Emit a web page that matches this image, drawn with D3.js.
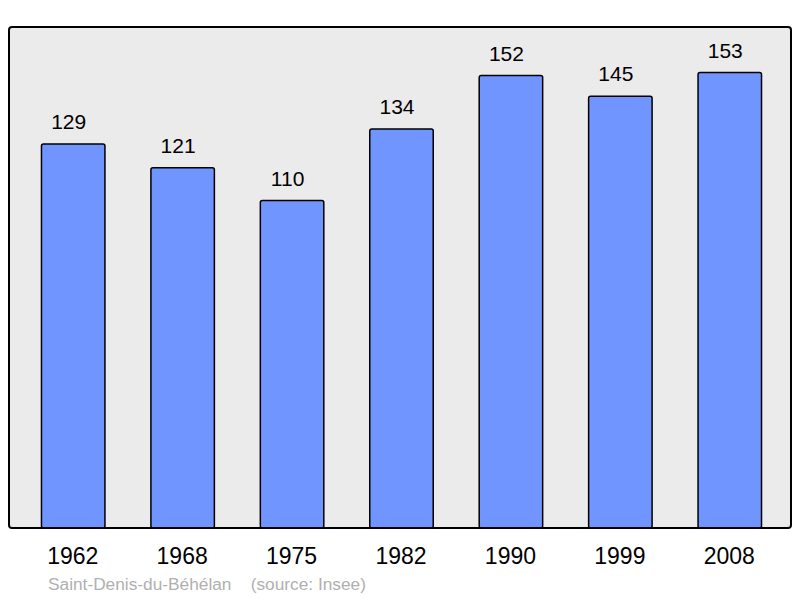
<!DOCTYPE html>
<html>
<head>
<meta charset="utf-8">
<script src="https://cdn.jsdelivr.net/npm/d3@7"></script>
<style>
  body { margin: 0; background: #fff; }
  text { font-family: "Liberation Sans", Arial, sans-serif; }
</style>
</head>
<body>
<svg width="800" height="598"></svg>
<script>
const years = ["1962", "1968", "1975", "1982", "1990", "1999", "2008"];
const population = [129, 121, 110, 134, 152, 145, 153];
const place = "Saint-Denis-du-Béhélan";
const source = "(source: Insee)";

const svg = d3.select("svg");
const panel = {left: 9, top: 27, right: 791, bottom: 528};

const x = d3.scaleBand()
    .domain(years)
    .range([18, 784])
    .paddingInner(0.42)
    .paddingOuter(0.21);

const y = d3.scaleLinear()
    .domain([0, d3.max(population) * 1.1])
    .range([panel.bottom, panel.top]);

svg.append("rect")
    .attr("x", panel.left)
    .attr("y", panel.top)
    .attr("width", panel.right - panel.left)
    .attr("height", panel.bottom - panel.top)
    .attr("rx", 3)
    .attr("fill", "#ebebeb");

const data = years.map((yr, i) => ({year: yr, value: population[i]}));

svg.append("g")
    .selectAll("rect")
    .data(data)
    .join("rect")
    .attr("x", (d) => x(d.year) + 0.5)
    .attr("y", (d) => y(d.value))
    .attr("width", x.bandwidth())
    .attr("height", (d) => panel.bottom - y(d.value))
    .attr("rx", 2)
    .attr("fill", "#7095ff")
    .attr("stroke", "#000")
    .attr("stroke-width", 1.5);

// panel border on top of the bar bottoms
svg.append("rect")
    .attr("x", panel.left)
    .attr("y", panel.top)
    .attr("width", panel.right - panel.left)
    .attr("height", panel.bottom - panel.top)
    .attr("rx", 3)
    .attr("fill", "none")
    .attr("stroke", "#000")
    .attr("stroke-width", 2);

svg.append("g")
    .selectAll("text")
    .data(data)
    .join("text")
    .attr("x", (d) => x(d.year) + x.bandwidth() / 2 - 4)
    .attr("y", (d) => y(d.value) - 15)
    .attr("text-anchor", "middle")
    .attr("font-size", 21)
    .attr("fill", "#000")
    .text((d) => d.value);

const xAxis = svg.append("g")
    .attr("transform", `translate(0,${panel.bottom})`)
    .call(d3.axisBottom(x).tickSize(0).tickPadding(20));
xAxis.select(".domain").remove();
xAxis.selectAll("text")
    .attr("font-size", 23)
    .attr("font-family", "Liberation Sans, Arial, sans-serif")
    .attr("fill", "#000");

svg.append("text")
    .attr("x", 48)
    .attr("y", 590)
    .attr("font-size", 17.3)
    .attr("fill", "#b0b0b0")
    .attr("xml:space", "preserve")
    .text(place + "    " + source);
</script>
</body>
</html>
